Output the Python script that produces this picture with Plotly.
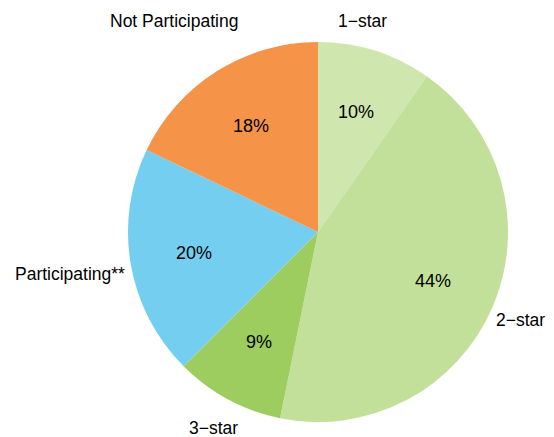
import math
import plotly.graph_objects as go

# ---- data ----
categories = ["1\u2212star", "2\u2212star", "3\u2212star", "Participating**", "Not Participating"]
shares = [9.7, 43.5, 9.3, 19.6, 17.9]
pct_labels = ["10%", "44%", "9%", "20%", "18%"]
colors = ["#CFE6AE", "#C2E09A", "#9DCD5F", "#73CEF0", "#F59448"]

# ---- layout geometry (pixels) ----
W, H = 554, 437
CX, CY, R = 318, 232, 190
FONT = "Liberation Sans, Arial, Helvetica, sans-serif"

fig = go.Figure(go.Pie(
    labels=categories,
    values=shares,
    sort=False,
    direction="clockwise",
    rotation=0,
    marker=dict(colors=colors, line=dict(width=0)),
    textinfo="none",
    hoverinfo="label+percent",
    showlegend=False,
    domain=dict(x=[(CX - R) / W, (CX + R) / W],
                y=[1 - (CY + R) / H, 1 - (CY - R) / H]),
))

def to_paper(px, py):
    return px / W, 1 - py / H

annotations = []
total = sum(shares)
cum = 0.0
for v, t in zip(shares, pct_labels):
    mid = (cum + v / 2) / total * 2 * math.pi
    cum += v
    px = CX + 0.66 * R * math.sin(mid)
    py = CY - 0.66 * R * math.cos(mid)
    x, y = to_paper(px, py)
    annotations.append(dict(x=x, y=y, xref="paper", yref="paper", text=t,
                            showarrow=False, xanchor="center", yanchor="middle",
                            font=dict(family=FONT, size=18, color="black")))

# outside category label placement (pixel centres)
label_pos = [(362, 21), (520, 320), (213, 428), (70, 274), (174, 21)]
for name, (px, py) in zip(categories, label_pos):
    x, y = to_paper(px, py)
    annotations.append(dict(x=x, y=y, xref="paper", yref="paper", text=name,
                            showarrow=False, xanchor="center", yanchor="middle",
                            font=dict(family=FONT, size=17.5, color="black")))

fig.update_layout(
    width=W, height=H,
    margin=dict(l=0, r=0, t=0, b=0),
    paper_bgcolor="white",
    plot_bgcolor="white",
    annotations=annotations,
)

fig.write_html("out.html", config={"displayModeBar": False})

# remove default page margin so the figure fills the window exactly
with open("out.html", "r", encoding="utf-8") as f:
    html = f.read()
html = html.replace("<head>", "<head><style>html,body{margin:0;padding:0;overflow:hidden;}</style>", 1)
with open("out.html", "w", encoding="utf-8") as f:
    f.write(html)
